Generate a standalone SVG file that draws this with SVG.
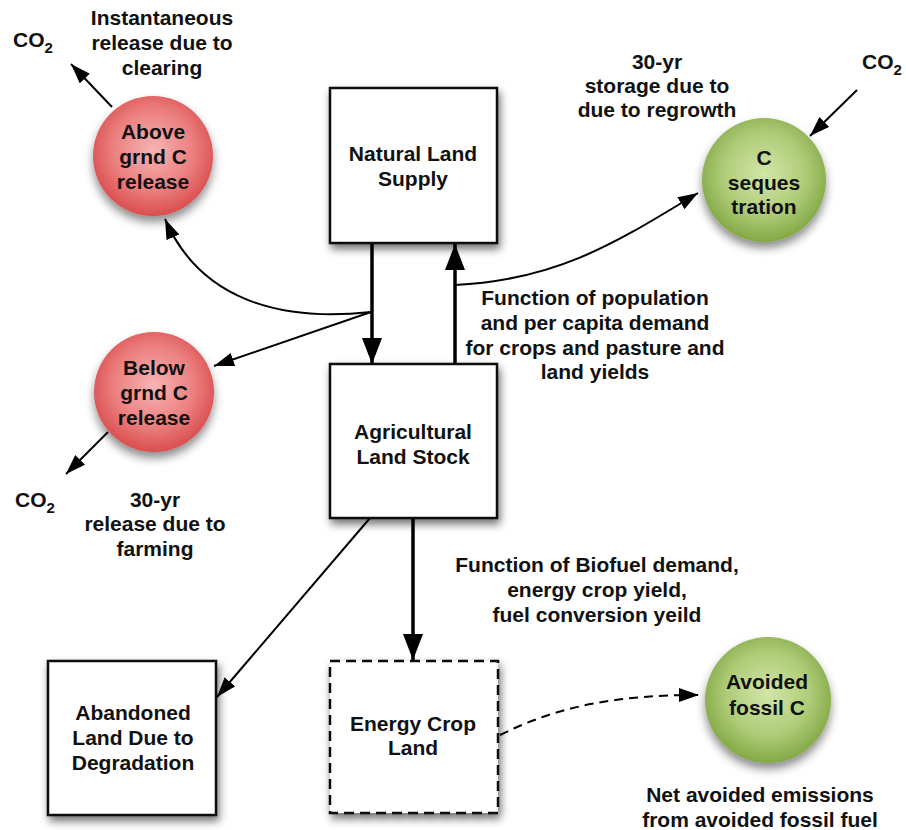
<svg xmlns="http://www.w3.org/2000/svg" width="906" height="830" viewBox="0 0 906 830">
<defs>
<style>
text{font-family:"Liberation Sans",Arial,sans-serif;font-weight:bold;font-size:21px;fill:#111;text-anchor:middle}
.box{fill:#fff;stroke:#111;stroke-width:2.5;filter:url(#sh)}
.dbox{fill:#fff;stroke:#111;stroke-width:2.5;stroke-dasharray:10 6;filter:url(#sh)}
.thick{fill:none;stroke:#000;stroke-width:3.5}
.thin{fill:none;stroke:#000;stroke-width:2}
.dash{fill:none;stroke:#000;stroke-width:2;stroke-dasharray:9 6}
.red{fill:url(#rg);filter:url(#csh)}
.green{fill:url(#gg);filter:url(#csh)}
.sub{font-size:15px}
</style>
<filter id="sh" x="-20%" y="-20%" width="150%" height="150%">
<feDropShadow dx="2" dy="5" stdDeviation="4" flood-color="#000" flood-opacity="0.55"/>
</filter>
<filter id="csh" x="-30%" y="-30%" width="160%" height="170%">
<feDropShadow dx="0" dy="6" stdDeviation="5" flood-color="#000" flood-opacity="0.45"/>
</filter>
<radialGradient id="rg" cx="50%" cy="45%" r="55%">
<stop offset="0" stop-color="#f7b4b4"/>
<stop offset="0.6" stop-color="#ec8080"/>
<stop offset="1" stop-color="#d94e4e"/>
</radialGradient>
<radialGradient id="gg" cx="50%" cy="45%" r="55%">
<stop offset="0" stop-color="#d2e6a8"/>
<stop offset="0.6" stop-color="#afcc78"/>
<stop offset="1" stop-color="#82a845"/>
</radialGradient>
<marker id="ah" markerUnits="userSpaceOnUse" markerWidth="28" markerHeight="22" refX="26" refY="10" orient="auto">
<path d="M0,0 L26,10 L0,20 z" fill="#000"/>
</marker>
<marker id="at" markerUnits="userSpaceOnUse" markerWidth="22" markerHeight="16" refX="20" refY="7" orient="auto">
<path d="M0,0 L20,7 L0,14 z" fill="#000"/>
</marker>
</defs>
<rect width="906" height="830" fill="#fff"/>

<g id="connectors">
<path class="thick" d="M372,243 L372,364" marker-end="url(#ah)"/>
<path class="thick" d="M455,364 L455,244" marker-end="url(#ah)"/>
<path class="thick" d="M413,518 L413,660" marker-end="url(#ah)"/>
<path class="thin" d="M455,285 C560,280 620,240 698,193" marker-end="url(#at)"/>
<path class="thin" d="M371,312 C280,322 200,300 165,219" marker-end="url(#at)"/>
<path class="thin" d="M371,312 L214,366" marker-end="url(#at)"/>
<path class="thin" d="M370,518 L217,697" marker-end="url(#at)"/>
<path class="thin" d="M112,107 L71,64" marker-end="url(#at)"/>
<path class="thin" d="M108,432 L66,474" marker-end="url(#at)"/>
<path class="thin" d="M857,90 L810,136" marker-end="url(#at)"/>
<path class="dash" d="M500,735 C560,705 620,695 699,695" marker-end="url(#at)"/>
</g>

<g id="natural">
<rect class="box" x="330" y="88" width="167" height="155"/>
<text x="413" y="161">Natural Land</text>
<text x="413" y="186">Supply</text>
</g>
<g id="agricultural">
<rect class="box" x="330" y="364" width="167" height="154"/>
<text x="413" y="439">Agricultural</text>
<text x="413" y="464">Land Stock</text>
</g>
<g id="abandoned">
<rect class="box" x="48" y="661" width="168" height="154"/>
<text x="133" y="720">Abandoned</text>
<text x="133" y="745">Land Due to</text>
<text x="133" y="770">Degradation</text>
</g>
<g id="energy">
<rect class="dbox" x="330" y="661" width="168" height="152"/>
<text x="413" y="731">Energy Crop</text>
<text x="413" y="755">Land</text>
</g>
<g id="above">
<circle class="red" cx="153" cy="156" r="60"/>
<text x="153" y="139">Above</text>
<text x="153" y="164">grnd C</text>
<text x="153" y="189">release</text>
</g>
<g id="below">
<circle class="red" cx="154" cy="392" r="60"/>
<text x="154" y="375">Below</text>
<text x="154" y="400">grnd C</text>
<text x="154" y="425">release</text>
</g>
<g id="seques">
<circle class="green" cx="764" cy="180" r="62"/>
<text x="764" y="165">C</text>
<text x="764" y="190">seques</text>
<text x="764" y="214">tration</text>
</g>
<g id="avoided">
<circle class="green" cx="768" cy="700" r="63"/>
<text x="767" y="689">Avoided</text>
<text x="767" y="715">fossil C</text>
</g>

<g id="labels">
<text x="162" y="25">Instantaneous</text>
<text x="162" y="50">release due to</text>
<text x="162" y="75">clearing</text>
<text x="13" y="47" style="text-anchor:start">CO<tspan class="sub" dy="6">2</tspan></text>
<text x="657" y="69">30-yr</text>
<text x="657" y="93">storage due to</text>
<text x="657" y="117">due to regrowth</text>
<text x="862" y="69" style="text-anchor:start">CO<tspan class="sub" dy="6">2</tspan></text>
<text x="15" y="507" style="text-anchor:start">CO<tspan class="sub" dy="6">2</tspan></text>
<text x="155" y="507">30-yr</text>
<text x="155" y="531">release due to</text>
<text x="155" y="556">farming</text>
<text x="595" y="305">Function of population</text>
<text x="595" y="330">and per capita demand</text>
<text x="595" y="355">for crops and pasture and</text>
<text x="595" y="379">land yields</text>
<text x="597" y="572">Function of Biofuel demand,</text>
<text x="597" y="597">energy crop yield,</text>
<text x="597" y="622">fuel conversion yeild</text>
<text x="760" y="802">Net avoided emissions</text>
<text x="760" y="827">from avoided fossil fuel</text>
</g>
</svg>
